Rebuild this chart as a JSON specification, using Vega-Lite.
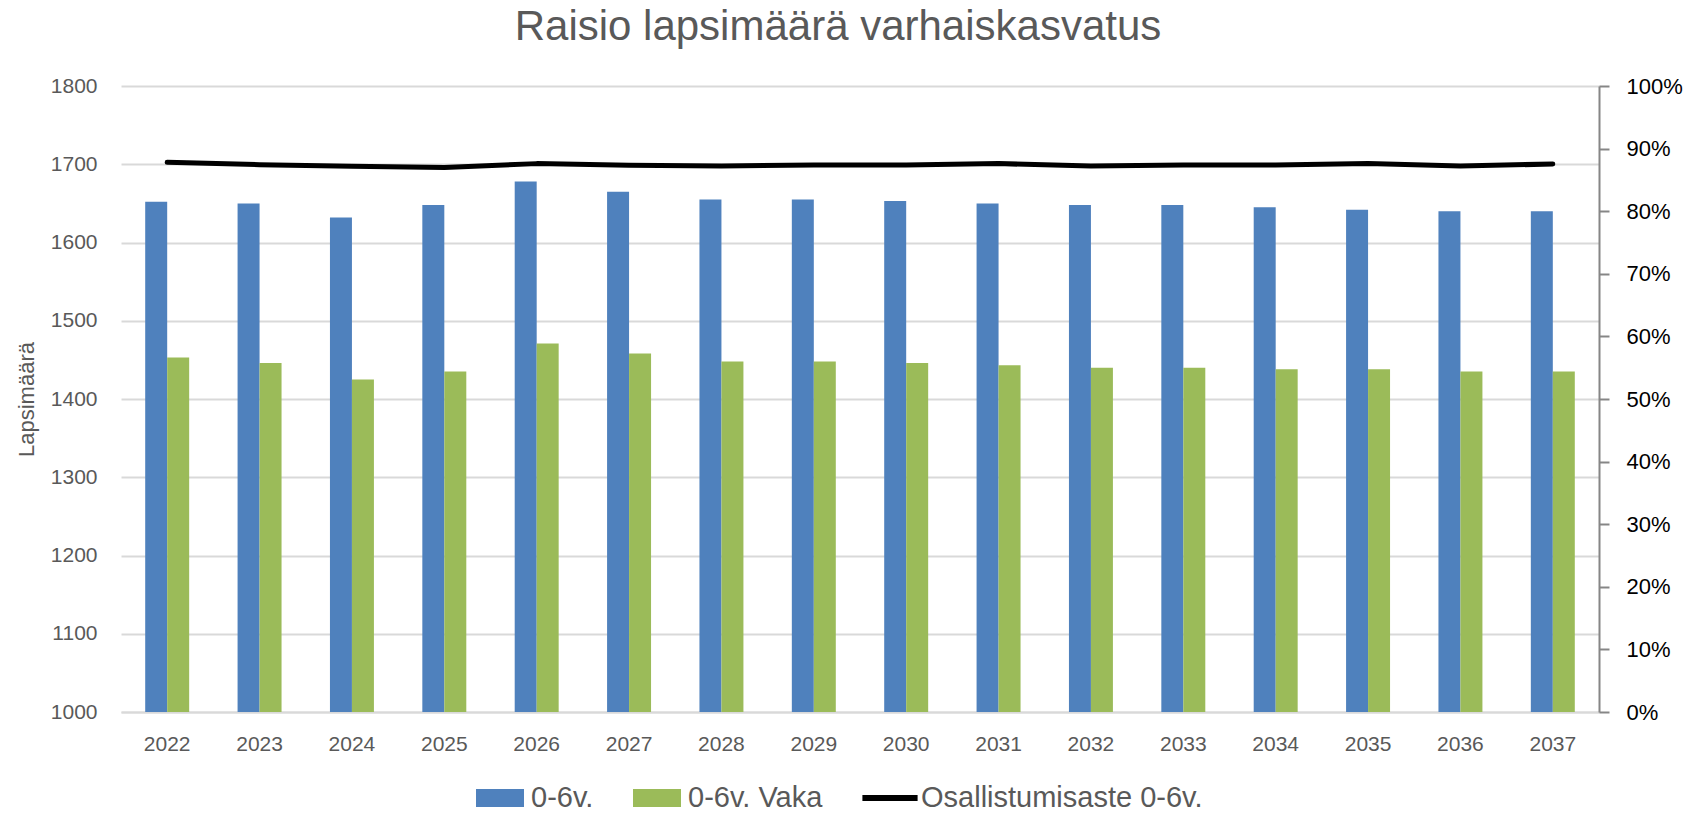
{
  "$schema": "https://vega.github.io/schema/vega-lite/v6.json",
  "width": 1478,
  "height": 626,
  "autosize": {"type": "none"},
  "padding": {"left": 121, "top": 86, "right": 91, "bottom": 102},
  "background": "white",
  "config": {
    "font": "Liberation Sans",
    "view": {"stroke": null}
  },
  "title": {
    "text": "Raisio lapsimäärä varhaiskasvatus",
    "fontSize": 42,
    "fontWeight": "normal",
    "color": "#595959",
    "anchor": "middle",
    "frame": "group",
    "baseline": "alphabetic",
    "offset": 0,
    "dx": -22,
    "dy": 7
  },
  "datasets": {
    "bars": [
      {"year": "2022", "series": "0-6v.", "value": 1652},
      {"year": "2022", "series": "0-6v. Vaka", "value": 1453},
      {"year": "2023", "series": "0-6v.", "value": 1650},
      {"year": "2023", "series": "0-6v. Vaka", "value": 1446},
      {"year": "2024", "series": "0-6v.", "value": 1632},
      {"year": "2024", "series": "0-6v. Vaka", "value": 1425},
      {"year": "2025", "series": "0-6v.", "value": 1648},
      {"year": "2025", "series": "0-6v. Vaka", "value": 1435},
      {"year": "2026", "series": "0-6v.", "value": 1678},
      {"year": "2026", "series": "0-6v. Vaka", "value": 1471},
      {"year": "2027", "series": "0-6v.", "value": 1665},
      {"year": "2027", "series": "0-6v. Vaka", "value": 1458},
      {"year": "2028", "series": "0-6v.", "value": 1655},
      {"year": "2028", "series": "0-6v. Vaka", "value": 1448},
      {"year": "2029", "series": "0-6v.", "value": 1655},
      {"year": "2029", "series": "0-6v. Vaka", "value": 1448},
      {"year": "2030", "series": "0-6v.", "value": 1653},
      {"year": "2030", "series": "0-6v. Vaka", "value": 1446},
      {"year": "2031", "series": "0-6v.", "value": 1650},
      {"year": "2031", "series": "0-6v. Vaka", "value": 1443},
      {"year": "2032", "series": "0-6v.", "value": 1648},
      {"year": "2032", "series": "0-6v. Vaka", "value": 1440},
      {"year": "2033", "series": "0-6v.", "value": 1648},
      {"year": "2033", "series": "0-6v. Vaka", "value": 1440},
      {"year": "2034", "series": "0-6v.", "value": 1645},
      {"year": "2034", "series": "0-6v. Vaka", "value": 1438},
      {"year": "2035", "series": "0-6v.", "value": 1642},
      {"year": "2035", "series": "0-6v. Vaka", "value": 1438},
      {"year": "2036", "series": "0-6v.", "value": 1640},
      {"year": "2036", "series": "0-6v. Vaka", "value": 1435},
      {"year": "2037", "series": "0-6v.", "value": 1640},
      {"year": "2037", "series": "0-6v. Vaka", "value": 1435}
    ],
    "rates": [
      {"year": "2022", "rate": 0.878},
      {"year": "2023", "rate": 0.8744},
      {"year": "2024", "rate": 0.8717},
      {"year": "2025", "rate": 0.8697},
      {"year": "2026", "rate": 0.876},
      {"year": "2027", "rate": 0.8733},
      {"year": "2028", "rate": 0.8722},
      {"year": "2029", "rate": 0.8738},
      {"year": "2030", "rate": 0.8738},
      {"year": "2031", "rate": 0.876},
      {"year": "2032", "rate": 0.8722},
      {"year": "2033", "rate": 0.8738},
      {"year": "2034", "rate": 0.8738},
      {"year": "2035", "rate": 0.876},
      {"year": "2036", "rate": 0.8722},
      {"year": "2037", "rate": 0.8754}
    ]
  },
  "layer": [
    {
      "data": {"name": "bars"},
      "mark": {"type": "bar"},
      "encoding": {
        "x": {
          "field": "year",
          "type": "nominal",
          "sort": null,
          "scale": {"paddingInner": 0.524, "paddingOuter": 0.262},
          "axis": {
            "title": null,
            "labelAngle": 0,
            "labelColor": "#595959",
            "labelFontSize": 21,
            "labelPadding": 21,
            "ticks": false,
            "domainColor": "#d9d9d9",
            "domainWidth": 2
          }
        },
        "xOffset": {"field": "series", "type": "nominal", "sort": ["0-6v.", "0-6v. Vaka"], "scale": {"paddingInner": 0, "paddingOuter": 0}},
        "y": {
          "field": "value",
          "type": "quantitative",
          "scale": {"domain": [1000, 1800], "zero": false, "nice": false},
          "axis": {
            "title": "Lapsimäärä",
            "titleColor": "#595959",
            "titleFontSize": 22,
            "titleFontWeight": "normal",
            "titlePadding": 12,
            "format": "d",
            "values": [1000, 1100, 1200, 1300, 1400, 1500, 1600, 1700, 1800],
            "labelColor": "#595959",
            "labelFontSize": 21,
            "labelPadding": 24,
            "ticks": false,
            "domain": false,
            "grid": true,
            "gridColor": "#d9d9d9",
            "gridWidth": 2
          }
        },
        "y2": {"datum": 1000},
        "color": {
          "field": "series",
          "type": "nominal",
          "scale": {
            "domain": ["0-6v.", "0-6v. Vaka", "Osallistumisaste 0-6v."],
            "range": ["#4f81bd", "#9bbb59", "#000000"]
          },
          "legend": {
            "title": null,
            "orient": "none",
            "direction": "horizontal",
            "legendX": 355,
            "legendY": 688,
            "symbolSize": 2304,
            "symbolType": "M-1,-0.375L1,-0.375L1,0.375L-1,0.375Z",
            "symbolOpacity": 1,
            "symbolStrokeWidth": 0,
            "labelFontSize": 29,
            "labelLimit": 0,
            "labelColor": "#595959",
            "labelOffset": 7,
            "columnPadding": 39,
            "encode": {
              "symbols": {
                "update": {
                  "shape": {"signal": "datum.label === 'Osallistumisaste 0-6v.' ? 'M-1.15,-0.12L1.15,-0.12L1.15,0.12L-1.15,0.12Z' : 'M-1,-0.375L1,-0.375L1,0.375L-1,0.375Z'"}
                }
              }
            }
          }
        }
      }
    },
    {
      "data": {"name": "rates"},
      "mark": {"type": "line", "color": "#000000", "strokeWidth": 5, "strokeCap": "round", "strokeJoin": "round"},
      "encoding": {
        "x": {"field": "year", "type": "nominal", "sort": null},
        "y": {
          "field": "rate",
          "type": "quantitative",
          "scale": {"domain": [0, 1], "nice": false},
          "axis": {
            "orient": "right",
            "title": null,
            "format": ".0%",
            "values": [0, 0.1, 0.2, 0.3, 0.4, 0.5, 0.6, 0.7, 0.8, 0.9, 1],
            "labelColor": "#000000",
            "labelFontSize": 22,
            "labelPadding": 17,
            "grid": false,
            "domain": true,
            "domainColor": "#868686",
            "domainWidth": 2,
            "ticks": true,
            "tickColor": "#868686",
            "tickSize": 10,
            "tickWidth": 2
          }
        }
      }
    }
  ],
  "resolve": {"scale": {"y": "independent"}}
}
